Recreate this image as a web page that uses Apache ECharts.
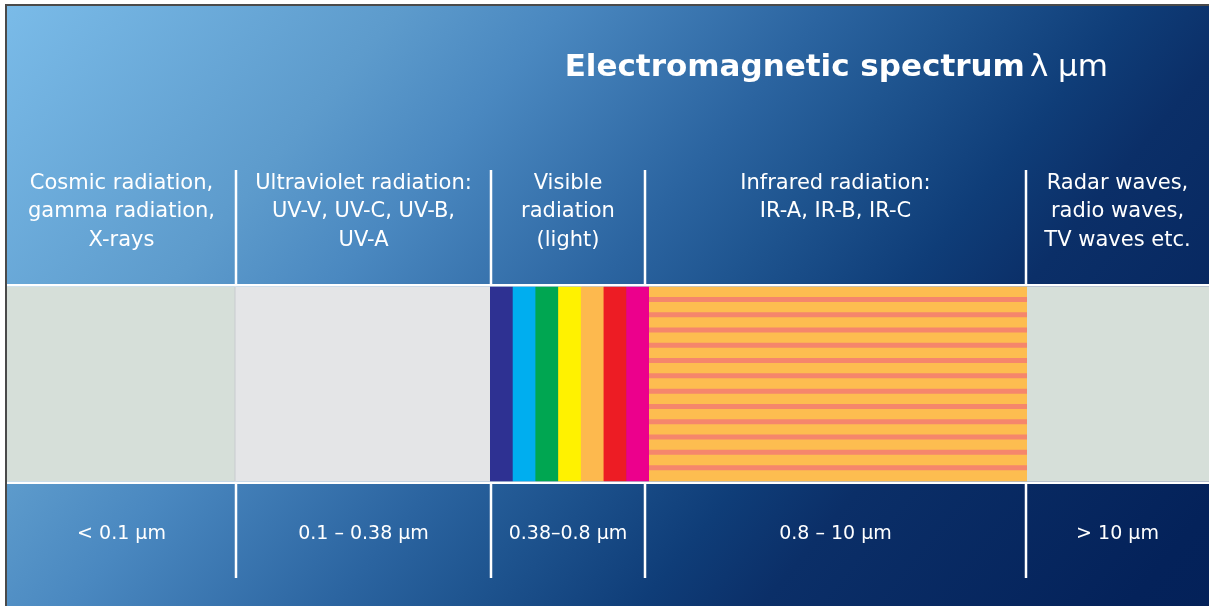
<!DOCTYPE html>
<html>
<head>
<meta charset="utf-8">
<script src="https://cdn.jsdelivr.net/npm/echarts@6/dist/echarts.min.js"></script>
<style>
html,body{margin:0;padding:0;background:#fff;}
#chart{width:1209px;height:606px;}
</style>
</head>
<body>
<div id="chart"></div>
<script>
// ---- data ----
const titleMain = 'Electromagnetic spectrum';
const titleUnit = 'λ μm';
const regionNames = [
  'Cosmic radiation,\ngamma radiation,\nX-rays',
  'Ultraviolet radiation:\nUV-V, UV-C, UV-B,\nUV-A',
  'Visible\nradiation\n(light)',
  'Infrared radiation:\nIR-A, IR-B, IR-C',
  'Radar waves,\nradio waves,\nTV waves etc.'
];
const regionRanges = ['< 0.1 μm', '0.1 – 0.38 μm', '0.38–0.8 μm', '0.8 – 10 μm', '> 10 μm'];
// schematic extents of the spectrum band for each region (layout units)
const bandStart = [0, 228, 483, 642, 1020];
const bandEnd = [228, 483, 642, 1020, 1202];
// divider lines between the regions
const dividers = [229, 484, 638, 1019];
const layoutWidth = 1202;
const irStripeCount = 12;

// ---- styles ----
const bandKinds = ['plain', 'plain', 'visible', 'infrared', 'plain'];
const plainFills = ['#d6dfd9', '#e4e5e7', null, null, '#d6dfd9'];
const visibleColors = ['#2e3192', '#00aeef', '#00a651', '#fff200', '#fdb94e', '#ed1c24', '#ec008c'];
const irColors = ['#fdbd50', '#f5866c'];

const FONT = 'DejaVu Sans';
const BAND_TOP = 280.5, BAND_BOT = 475.5;

const chart = echarts.init(document.getElementById('chart'));

const colEdges = [0].concat(dividers, [layoutWidth]);
const headerData = regionNames.map((n, i) => [(colEdges[i] + colEdges[i + 1]) / 2, n]);
const rangeData = regionRanges.map((n, i) => [(colEdges[i] + colEdges[i + 1]) / 2, n]);
const bandData = bandStart.map((s, i) => [s, bandEnd[i], i]);

const bg = new echarts.graphic.LinearGradient(0, 0, 1209, 1000, [
  {offset: 0, color: '#7bbce9'},
  {offset: 0.2, color: '#5d9bcc'},
  {offset: 0.28, color: '#4a88c0'},
  {offset: 0.41, color: '#2b64a0'},
  {offset: 0.47, color: '#1f5590'},
  {offset: 0.56, color: '#0f3d78'},
  {offset: 0.62, color: '#0b2f68'},
  {offset: 0.8, color: '#04225a'},
  {offset: 1, color: '#021d55'}
], true);

const option = {
  animation: false,
  backgroundColor: '#ffffff',
  graphic: {
    elements: [{
      type: 'rect', z: -100, silent: true,
      shape: {x: 6, y: 5, width: 1215, height: 615},
      style: {fill: bg, stroke: '#4a4a4a', lineWidth: 2}
    }]
  },
  title: {
    text: '{b|' + titleMain + '} {n|' + titleUnit + '}',
    right: 96, top: 47,
    textStyle: {
      rich: {
        b: {fontFamily: FONT, fontWeight: 'bold', fontSize: 31, color: '#ffffff'},
        n: {fontFamily: FONT, fontWeight: 'normal', fontSize: 31, color: '#ffffff'}
      }
    }
  },
  grid: {left: 7, right: 0, top: 6, bottom: 0},
  xAxis: {type: 'value', min: 0, max: layoutWidth, show: false},
  yAxis: {type: 'value', min: 0, max: 600, inverse: true, show: false},
  series: [
    {
      type: 'custom', z: 2,
      data: bandData,
      renderItem: function (params, api) {
        const i = api.value(2);
        const p0 = api.coord([api.value(0), BAND_TOP]);
        const p1 = api.coord([api.value(1), BAND_BOT]);
        const w = p1[0] - p0[0], h = p1[1] - p0[1];
        const kind = bandKinds[i];
        const children = [];
        if (kind === 'plain') {
          children.push({type: 'rect', shape: {x: p0[0], y: p0[1], width: w, height: h}, style: {fill: plainFills[i]}});
        } else if (kind === 'visible') {
          const sw = w / visibleColors.length;
          visibleColors.forEach((c, k) => {
            children.push({type: 'rect', shape: {x: p0[0] + k * sw, y: p0[1], width: sw + 0.5, height: h}, style: {fill: c}});
          });
        } else {
          children.push({type: 'rect', shape: {x: p0[0], y: p0[1], width: w, height: h}, style: {fill: irColors[0]}});
          const period = h / (irStripeCount + 0.75);
          for (let k = 0; k < irStripeCount; k++) {
            children.push({type: 'rect', shape: {x: p0[0], y: p0[1] + period * (k + 0.68), width: w, height: 5}, style: {fill: irColors[1]}});
          }
        }
        if (i === 1) {
          children.push({type: 'line', shape: {x1: p0[0], y1: p0[1], x2: p0[0], y2: p1[1]}, style: {stroke: '#c8cbcf', lineWidth: 1}});
        }
        return {type: 'group', children: children};
      }
    },
    {
      type: 'custom', z: 3,
      data: [[0, layoutWidth]],
      renderItem: function (params, api) {
        const a = api.coord([api.value(0), BAND_TOP]);
        const b = api.coord([api.value(1), BAND_BOT]);
        return {type: 'group', children: [
          {type: 'line', shape: {x1: a[0], y1: a[1] - 1.2, x2: b[0] + 10, y2: a[1] - 1.2}, style: {stroke: '#ffffff', lineWidth: 2.5}},
          {type: 'line', shape: {x1: a[0], y1: b[1] + 1.2, x2: b[0] + 10, y2: b[1] + 1.2}, style: {stroke: '#ffffff', lineWidth: 2.5}}
        ]};
      }
    },
    {
      type: 'custom', z: 3,
      data: dividers,
      renderItem: function (params, api) {
        const x = api.value(0);
        const t1 = api.coord([x, 164]);
        const b1 = api.coord([x, BAND_TOP - 2]);
        const t2 = api.coord([x, BAND_BOT + 2]);
        const b2 = api.coord([x, 572]);
        return {type: 'group', children: [
          {type: 'line', shape: {x1: t1[0], y1: t1[1], x2: b1[0], y2: b1[1]}, style: {stroke: '#ffffff', lineWidth: 2.5}},
          {type: 'line', shape: {x1: t2[0], y1: t2[1], x2: b2[0], y2: b2[1]}, style: {stroke: '#ffffff', lineWidth: 2.5}}
        ]};
      }
    },
    {
      type: 'custom', z: 4,
      data: headerData,
      renderItem: function (params, api) {
        const p = api.coord([api.value(0), 163]);
        return {type: 'text', x: p[0], y: p[1], style: {
          text: headerData[params.dataIndex][1], fill: '#ffffff',
          font: '21px "' + FONT + '"', align: 'center', verticalAlign: 'top', lineHeight: 28.5
        }};
      }
    },
    {
      type: 'custom', z: 4,
      data: rangeData,
      renderItem: function (params, api) {
        const p = api.coord([api.value(0), 528]);
        return {type: 'text', x: p[0], y: p[1], style: {
          text: rangeData[params.dataIndex][1], fill: '#ffffff',
          font: '19px "' + FONT + '"', align: 'center', verticalAlign: 'middle'
        }};
      }
    }
  ]
};
chart.setOption(option);
</script>
</body>
</html>
